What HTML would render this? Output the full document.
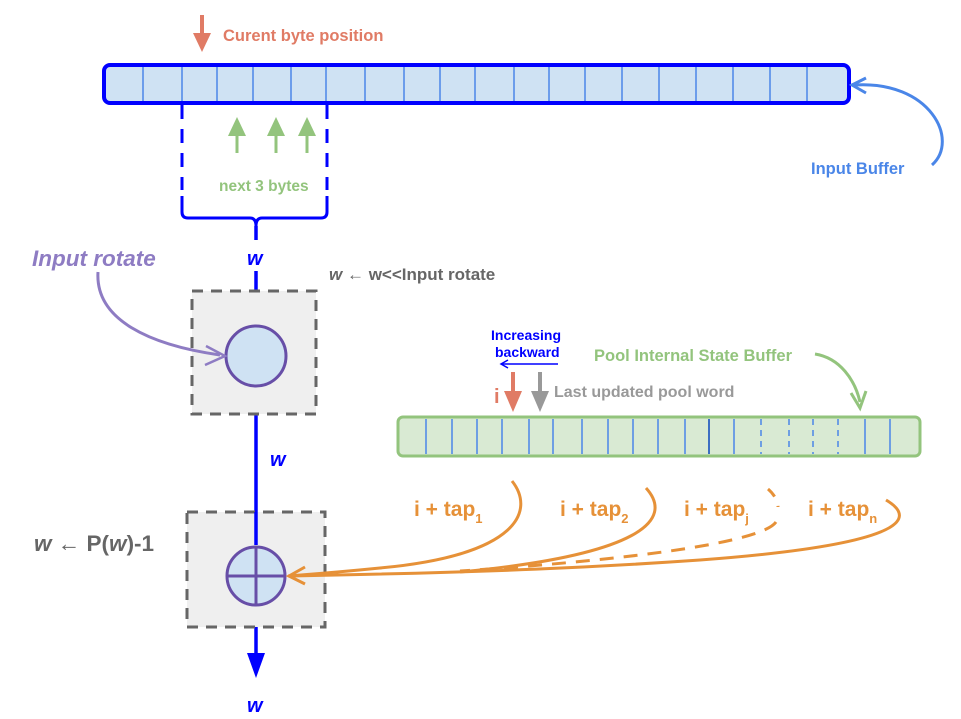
<!DOCTYPE html>
<html><head><meta charset="utf-8"><style>
html,body{margin:0;padding:0;background:#fff}
svg{display:block}
text{font-family:"Liberation Sans",sans-serif;font-weight:bold}
</style></head><body>
<svg width="961" height="719" viewBox="0 0 961 719" xmlns="http://www.w3.org/2000/svg">
<!-- top label -->
<path d="M202,15 V36" stroke="#e07b65" stroke-width="4"/>
<path d="M193,33 L211,33 L202,52 Z" fill="#e07b65"/>
<text x="223" y="41" font-size="16.5" fill="#e07b65">Curent byte position</text>
<!-- input buffer -->
<rect x="104" y="65" width="745" height="38" rx="6" fill="#cfe2f3" stroke="#0000ff" stroke-width="4"/>
<g stroke="#4a86e8" stroke-width="1.5">
<line x1="143" y1="67" x2="143" y2="101"/><line x1="182" y1="67" x2="182" y2="101"/><line x1="217" y1="67" x2="217" y2="101"/><line x1="253" y1="67" x2="253" y2="101"/><line x1="291" y1="67" x2="291" y2="101"/><line x1="326" y1="67" x2="326" y2="101"/><line x1="365" y1="67" x2="365" y2="101"/><line x1="404" y1="67" x2="404" y2="101"/><line x1="440" y1="67" x2="440" y2="101"/><line x1="475" y1="67" x2="475" y2="101"/><line x1="514" y1="67" x2="514" y2="101"/><line x1="549" y1="67" x2="549" y2="101"/><line x1="585" y1="67" x2="585" y2="101"/><line x1="622" y1="67" x2="622" y2="101"/><line x1="659" y1="67" x2="659" y2="101"/><line x1="696" y1="67" x2="696" y2="101"/><line x1="733" y1="67" x2="733" y2="101"/><line x1="770" y1="67" x2="770" y2="101"/><line x1="807" y1="67" x2="807" y2="101"/>
</g>
<!-- dashed bracket -->
<g stroke="#0000ff" stroke-width="3" fill="none">
<path d="M182,105 V190" stroke-dasharray="14,10"/>
<path d="M327,105 V190" stroke-dasharray="14,10"/>
<path d="M182,196 V212 Q182,218 188,218 H250 Q256,218 256,226 Q256,218 262,218 H321 Q327,218 327,212 V196"/>
</g>
<!-- green arrows -->
<g fill="#93c47d" stroke="#93c47d" stroke-width="3">
<path d="M237,153 V130"/><path d="M228,136 L237,117 L246,136 Z" stroke="none"/>
<path d="M276,153 V130"/><path d="M267,136 L276,117 L285,136 Z" stroke="none"/>
<path d="M307,153 V130"/><path d="M298,136 L307,117 L316,136 Z" stroke="none"/>
</g>
<text x="219" y="191" font-size="15.5" fill="#93c47d">next 3 bytes</text>
<!-- input buffer label -->
<path d="M932,165 C960,140 930,80 854,85" fill="none" stroke="#4a86e8" stroke-width="3"/>
<path d="M866,78 L852,85 L866,93" fill="none" stroke="#4a86e8" stroke-width="3"/>
<text x="811" y="174" font-size="16.5" fill="#4a86e8">Input Buffer</text>
<!-- main blue line -->
<g stroke="#0000ff" stroke-width="3.5">
<line x1="256" y1="226" x2="256" y2="240"/>
<line x1="256" y1="271" x2="256" y2="310"/>
<line x1="256" y1="399" x2="256" y2="528"/>
<line x1="256" y1="605" x2="256" y2="655"/>
</g>
<g fill="#0000ff">
<path d="M247,303 L265,303 L256,327 Z"/>
<path d="M247,521 L265,521 L256,546 Z"/>
<path d="M247,653 L265,653 L256,678 Z"/>
</g>
<text x="247" y="265" font-size="20" fill="#0000ff" font-style="italic">w</text>
<text x="270" y="466" font-size="20" fill="#0000ff" font-style="italic">w</text>
<text x="247" y="712" font-size="20" fill="#0000ff" font-style="italic">w</text>
<!-- box 1 -->
<rect x="192" y="291" width="124" height="123" fill="#efefef" stroke="#666" stroke-width="3" stroke-dasharray="11,8"/>
<circle cx="256" cy="356" r="30" fill="#cfe2f3" stroke="#674ea7" stroke-width="3"/>
<text x="32" y="266" font-size="22.5" fill="#8e7cc3" font-style="italic">Input rotate</text>
<path d="M98,272 C95,320 150,345 220,355" fill="none" stroke="#8e7cc3" stroke-width="3"/>
<path d="M206,346 L225,356 L205,365" fill="none" stroke="#8e7cc3" stroke-width="2.5"/>
<text x="329" y="280" font-size="17" fill="#666"><tspan font-style="italic">w</tspan> <tspan font-weight="normal">←</tspan> w&lt;&lt;Input rotate</text>
<!-- box 2 -->
<rect x="187" y="512" width="138" height="115" fill="#efefef" stroke="#666" stroke-width="3" stroke-dasharray="11,8"/>
<line x1="256" y1="512" x2="256" y2="545" stroke="#0000ff" stroke-width="3.5"/>
<circle cx="256" cy="576" r="29" fill="#cfe2f3" stroke="#674ea7" stroke-width="3"/>
<line x1="227" y1="576" x2="285" y2="576" stroke="#674ea7" stroke-width="3"/>
<line x1="256" y1="547" x2="256" y2="605" stroke="#674ea7" stroke-width="3"/>
<text x="34" y="551" font-size="22.5" fill="#666"><tspan font-style="italic">w</tspan> <tspan font-weight="normal">←</tspan> P(<tspan font-style="italic">w</tspan>)-1</text>
<!-- pool buffer -->
<text x="491" y="340" font-size="14" fill="#0000ff">Increasing</text>
<text x="495" y="357" font-size="14" fill="#0000ff">backward</text>
<line x1="502" y1="364" x2="558" y2="364" stroke="#0000ff" stroke-width="1.5"/>
<path d="M508,360 L501,364 L508,368" fill="none" stroke="#0000ff" stroke-width="1.5"/>
<text x="594" y="361" font-size="16.5" fill="#93c47d">Pool Internal State Buffer</text>
<path d="M815,354 C840,358 855,380 860,402" fill="none" stroke="#93c47d" stroke-width="3"/>
<path d="M851,393 L860,408 L866,391" fill="none" stroke="#93c47d" stroke-width="3"/>
<text x="494" y="403" font-size="20" fill="#e07b65">i</text>
<path d="M513,372 V394" stroke="#e07b65" stroke-width="4"/>
<path d="M504,391 L522,391 L513,412 Z" fill="#e07b65"/>
<path d="M540,372 V394" stroke="#999" stroke-width="4"/>
<path d="M531,391 L549,391 L540,412 Z" fill="#999"/>
<text x="554" y="397" font-size="16" fill="#999">Last updated pool word</text>
<rect x="398" y="417" width="522" height="39" rx="5" fill="#d9ead3" stroke="#93c47d" stroke-width="3"/>
<g stroke="#4a86e8" stroke-width="1.5">
<line x1="426" y1="419" x2="426" y2="454"/><line x1="452" y1="419" x2="452" y2="454"/><line x1="477" y1="419" x2="477" y2="454"/><line x1="502" y1="419" x2="502" y2="454"/><line x1="529" y1="419" x2="529" y2="454"/><line x1="553" y1="419" x2="553" y2="454"/><line x1="582" y1="419" x2="582" y2="454"/><line x1="608" y1="419" x2="608" y2="454"/><line x1="633" y1="419" x2="633" y2="454"/><line x1="658" y1="419" x2="658" y2="454"/><line x1="685" y1="419" x2="685" y2="454"/><line x1="709" y1="419" x2="709" y2="454" stroke="#3d6fc2" stroke-width="2"/><line x1="734" y1="419" x2="734" y2="454"/>
<g stroke-dasharray="6,5"><line x1="761" y1="419" x2="761" y2="454"/><line x1="789" y1="419" x2="789" y2="454"/><line x1="813" y1="419" x2="813" y2="454"/><line x1="838" y1="419" x2="838" y2="454"/></g>
<line x1="865" y1="419" x2="865" y2="454"/><line x1="890" y1="419" x2="890" y2="454"/>
</g>
<!-- taps -->
<g font-size="21" fill="#e69138">
<text x="414" y="516">i + tap<tspan font-size="13" dy="7">1</tspan></text>
<text x="560" y="516">i + tap<tspan font-size="13" dy="7">2</tspan></text>
<text x="684" y="516">i + tap<tspan font-size="13" dy="7">j</tspan></text>
<text x="808" y="516">i + tap<tspan font-size="13" dy="7">n</tspan></text>
</g>
<g fill="none" stroke="#e69138" stroke-width="3">
<path d="M512,481 C535,510 520,555 380,568 C330,573 300,575 288,576"/>
<path d="M646,488 C675,520 640,555 460,572"/>
<path d="M768,489 C775,495 778,502 778,507" stroke-dasharray="10,10"/>
<path d="M776,522 C760,545 600,562 460,571" stroke-dasharray="14,10"/>
<path d="M886,500 C920,520 900,545 700,560 C600,567 500,572 290,576"/>
</g>
<path d="M305,567 L289,576 L305,584" fill="none" stroke="#e69138" stroke-width="3"/>
</svg>
</body></html>
